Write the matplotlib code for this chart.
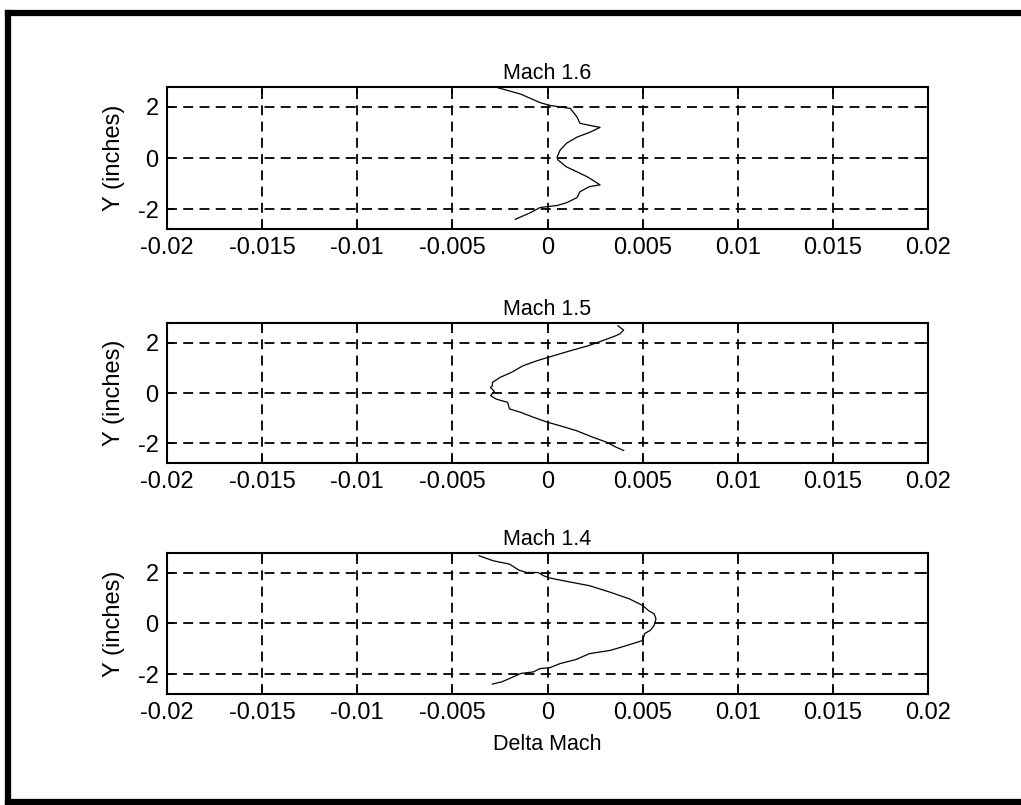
import matplotlib
matplotlib.use("Agg")
import matplotlib.pyplot as plt
from matplotlib.lines import Line2D
import numpy as np

plt.rcParams["font.family"] = ["Liberation Sans", "DejaVu Sans"]
plt.rcParams["axes.unicode_minus"] = False

# delta Mach profiles across the test section, one per nozzle Mach number
mach16_dm = [-0.0026, -0.0014, -0.0004, 0.00013, 0.00066, 0.0012, 0.00155, 0.0017,
             0.0022, 0.00276, 0.0022, 0.00155, 0.0010, 0.00066, 0.0005, 0.00055,
             0.0010, 0.00155, 0.0021, 0.00276, 0.0022, 0.0017, 0.00155, 0.0010,
             0.0005, 0.0, -0.0004, -0.0009, -0.0017]
mach16_y = [2.75, 2.50, 2.17, 2.06, 2.00, 1.94, 1.60, 1.36,
            1.28, 1.20, 1.00, 0.82, 0.58, 0.31, 0.04, -0.08,
            -0.35, -0.54, -0.74, -1.05, -1.12, -1.32, -1.55, -1.75,
            -1.86, -1.90, -1.94, -2.14, -2.40]

mach15_dm = [0.0037, 0.0040, 0.0038, 0.0035, 0.0031, 0.0026, 0.0021, 0.0012,
             0.00013, -0.00057, -0.0013, -0.0019, -0.0025, -0.0029, -0.0029,
             -0.0030, -0.0028, -0.0030, -0.0027, -0.0021, -0.0020, -0.0014,
             -0.00075, 0.0, 0.00066, 0.0015, 0.0024, 0.0031, 0.0036, 0.0040]
mach15_y = [2.67, 2.50, 2.35, 2.25, 2.14, 2.00, 1.87, 1.68,
            1.44, 1.28, 1.08, 0.82, 0.62, 0.42, 0.29,
            0.22, 0.07, -0.10, -0.24, -0.37, -0.63, -0.77,
            -0.96, -1.16, -1.30, -1.49, -1.76, -1.95, -2.15, -2.28]

mach14_dm = [-0.0036, -0.00285, -0.0020, -0.0015, -0.0011, -0.0005, -0.0002,
             0.00013, 0.0010, 0.0022, 0.0033, 0.0043, 0.0050, 0.0053, 0.0056,
             0.0057, 0.0056, 0.0054, 0.0051, 0.0050, 0.0042, 0.0033, 0.0022,
             0.0015, 0.00066, 0.00013, -0.0004, -0.00075, -0.0014, -0.0020,
             -0.0024, -0.0029]
mach14_y = [2.67, 2.47, 2.34, 2.10, 2.01, 2.01, 1.88,
            1.79, 1.66, 1.49, 1.23, 0.97, 0.71, 0.51, 0.38,
            0.18, -0.08, -0.27, -0.40, -0.67, -0.86, -1.06, -1.19,
            -1.42, -1.58, -1.74, -1.78, -1.91, -1.97, -2.17,
            -2.30, -2.39]

titles = ["Mach 1.6", "Mach 1.5", "Mach 1.4"]
profiles = [(mach16_dm, mach16_y), (mach15_dm, mach15_y), (mach14_dm, mach14_y)]
xticks = [-0.02, -0.015, -0.01, -0.005, 0, 0.005, 0.01, 0.015, 0.02]
xticklabels = ["-0.02", "-0.015", "-0.01", "-0.005", "0", "0.005", "0.01", "0.015", "0.02"]
yticks = [-2, 0, 2]

fig = plt.figure(figsize=(10.21, 8.05), dpi=100)

# axes boxes in figure fractions (left, bottom, width, height)
boxes = [(0.1636, 0.7155, 0.7454, 0.1764),
         (0.1636, 0.4248, 0.7454, 0.1739),
         (0.1636, 0.1379, 0.7454, 0.1752)]

for i, (box, title, (dm, yy)) in enumerate(zip(boxes, titles, profiles)):
    ax = fig.add_axes(box)
    ax.plot(dm, yy, color="black", lw=0.9)
    ax.set_xlim(-0.02, 0.02)
    ax.set_ylim(-2.78, 2.78)
    ax.set_xticks(xticks)
    ax.set_xticklabels(xticklabels)
    ax.set_yticks(yticks)
    ax.grid(True, color="black", ls=(0, (5.5, 3.5)), lw=1.3)
    ax.tick_params(direction="in", length=5, width=1.2, labelsize=17,
                   top=True, right=True, pad=6)
    for sp in ax.spines.values():
        sp.set_linewidth(1.5)
    ax.set_title(title, fontsize=15.5, pad=6)
    ax.set_ylabel("Y (inches)", fontsize=17, labelpad=9)
    if i == 2:
        ax.set_xlabel("Delta Mach", fontsize=15.5, labelpad=7)

# scanned page frame
for xs, ys in [([0.0079, 0.0079], [0.0, 0.984]),
               ([0.0079, 1.0], [0.984, 0.984]),
               ([0.0079, 1.0], [0.0037, 0.0037])]:
    fig.add_artist(Line2D(xs, ys, color="black", lw=4.5,
                          transform=fig.transFigure))

fig.savefig("out.png", dpi=100)
